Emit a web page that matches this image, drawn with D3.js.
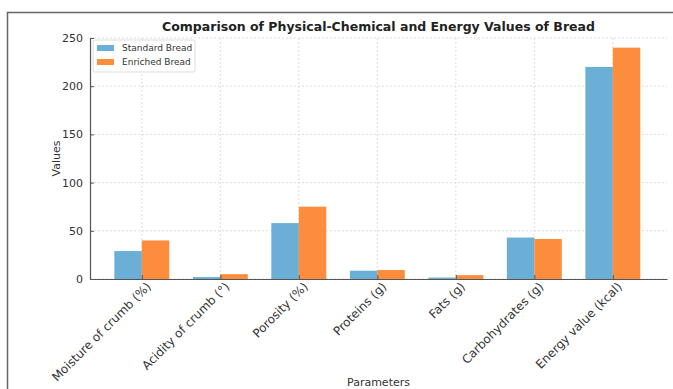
<!DOCTYPE html>
<html>
<head>
    <meta charset="utf-8">
    <title>Bread values</title>
    <style>
        body { margin: 0; background: #fff; }
        text { font-family: "DejaVu Sans", sans-serif; }
    </style>
</head>
<body>
    <script src="https://d3js.org/d3.v7.min.js"></script>
    <script>
    const categories = ["Moisture of crumb (%)", "Acidity of crumb (°)", "Porosity (%)",
        "Proteins (g)", "Fats (g)", "Carbohydrates (g)", "Energy value (kcal)"];
    const standardBread = [29, 2, 58, 8.6, 1.5, 43, 220];
    const enrichedBread = [40, 5, 75, 9.3, 4, 41.5, 240];
    const yTicks = [0, 50, 100, 150, 200, 250];

    const width = 673, height = 389;
    const plotLeft = 90, plotRight = 667, plotTop = 38, plotBottom = 279;
    const blue = "#6baed6", orange = "#fd8d3c";

    const svg = d3.select("body").append("svg")
        .attr("width", width)
        .attr("height", height);

    // outer frame of the screenshot
    svg.append("path")
        .attr("d", "M7.5,389 V12.5 H673")
        .attr("fill", "none")
        .attr("stroke", "#666")
        .attr("stroke-width", 1.5);

    var x = d3.scaleLinear()
        .domain([-0.66, 6.69])
        .range([plotLeft, plotRight]);

    var y = d3.scaleLinear()
        .domain([0, 250])
        .range([plotBottom, plotTop]);

    const barW = 0.35;

    // grid
    svg.append("g").selectAll("line")
        .data(yTicks)
        .enter().append("line")
        .attr("x1", plotLeft).attr("x2", plotRight)
        .attr("y1", d => y(d)).attr("y2", d => y(d))
        .attr("stroke", "#d4d4d4")
        .attr("stroke-dasharray", "2,2")
        .attr("stroke-width", 0.8);

    svg.append("g").selectAll("line")
        .data(categories)
        .enter().append("line")
        .attr("x1", (d, i) => x(i)).attr("x2", (d, i) => x(i))
        .attr("y1", plotTop).attr("y2", plotBottom)
        .attr("stroke", "#d4d4d4")
        .attr("stroke-dasharray", "2,2")
        .attr("stroke-width", 0.8);

    // bars
    svg.append("g").selectAll("rect")
        .data(standardBread)
        .enter().append("rect")
        .attr("x", (d, i) => x(i - barW))
        .attr("width", x(barW) - x(0))
        .attr("y", d => y(d))
        .attr("height", d => y(0) - y(d))
        .attr("fill", blue);

    svg.append("g").selectAll("rect")
        .data(enrichedBread)
        .enter().append("rect")
        .attr("x", (d, i) => x(i))
        .attr("width", x(barW) - x(0))
        .attr("y", d => y(d))
        .attr("height", d => y(0) - y(d))
        .attr("fill", orange);

    // axes
    var yAxis = svg.append("g")
        .attr("transform", "translate(" + plotLeft + ",0)")
        .call(d3.axisLeft(y).tickValues(yTicks).tickSizeInner(-4).tickSizeOuter(0).tickPadding(7));

    var xAxis = svg.append("g")
        .attr("transform", "translate(0," + plotBottom + ")")
        .call(d3.axisBottom(x).tickValues(d3.range(categories.length))
            .tickFormat(i => categories[i]).tickSizeInner(-4).tickSizeOuter(0).tickPadding(2));

    [yAxis, xAxis].forEach(function(a) {
        a.select(".domain").attr("stroke", "#555").attr("stroke-width", 1.2);
        a.selectAll(".tick line").attr("stroke", "#555");
        a.selectAll("text").attr("fill", "#333").style("font-size", "11px")
            .style("font-family", "DejaVu Sans, sans-serif");
    });

    xAxis.selectAll("text")
        .attr("text-anchor", "end")
        .attr("transform", "translate(5,4) rotate(-45)")
        .attr("dy", "0.35em")
        .style("font-size", "12px");

    // titles
    svg.append("text")
        .attr("x", (plotLeft + plotRight) / 2)
        .attr("y", 31)
        .attr("text-anchor", "middle")
        .style("font-size", "12.5px")
        .style("font-weight", "bold")
        .attr("fill", "#222")
        .text("Comparison of Physical-Chemical and Energy Values of Bread");

    svg.append("text")
        .attr("transform", "translate(60," + (plotTop + plotBottom) / 2 + ") rotate(-90)")
        .attr("text-anchor", "middle")
        .style("font-size", "11px")
        .attr("fill", "#333")
        .text("Values");

    svg.append("text")
        .attr("x", (plotLeft + plotRight) / 2)
        .attr("y", 386)
        .attr("text-anchor", "middle")
        .style("font-size", "11px")
        .attr("fill", "#333")
        .text("Parameters");

    // legend
    var legend = svg.append("g").attr("transform", "translate(93,40)");
    legend.append("rect")
        .attr("width", 102).attr("height", 32)
        .attr("rx", 2)
        .attr("fill", "#fff").attr("fill-opacity", 0.8)
        .attr("stroke", "#ddd");
    var items = [["Standard Bread", blue], ["Enriched Bread", orange]];
    var li = legend.selectAll("g.item")
        .data(items)
        .enter().append("g")
        .attr("transform", (d, i) => "translate(4," + (5 + i * 14) + ")");
    li.append("rect")
        .attr("width", 17).attr("height", 6)
        .attr("fill", d => d[1]);
    li.append("text")
        .attr("x", 25).attr("y", 3)
        .attr("dy", "0.35em")
        .style("font-size", "9px")
        .attr("fill", "#333")
        .text(d => d[0]);
    </script>
</body>
</html>
